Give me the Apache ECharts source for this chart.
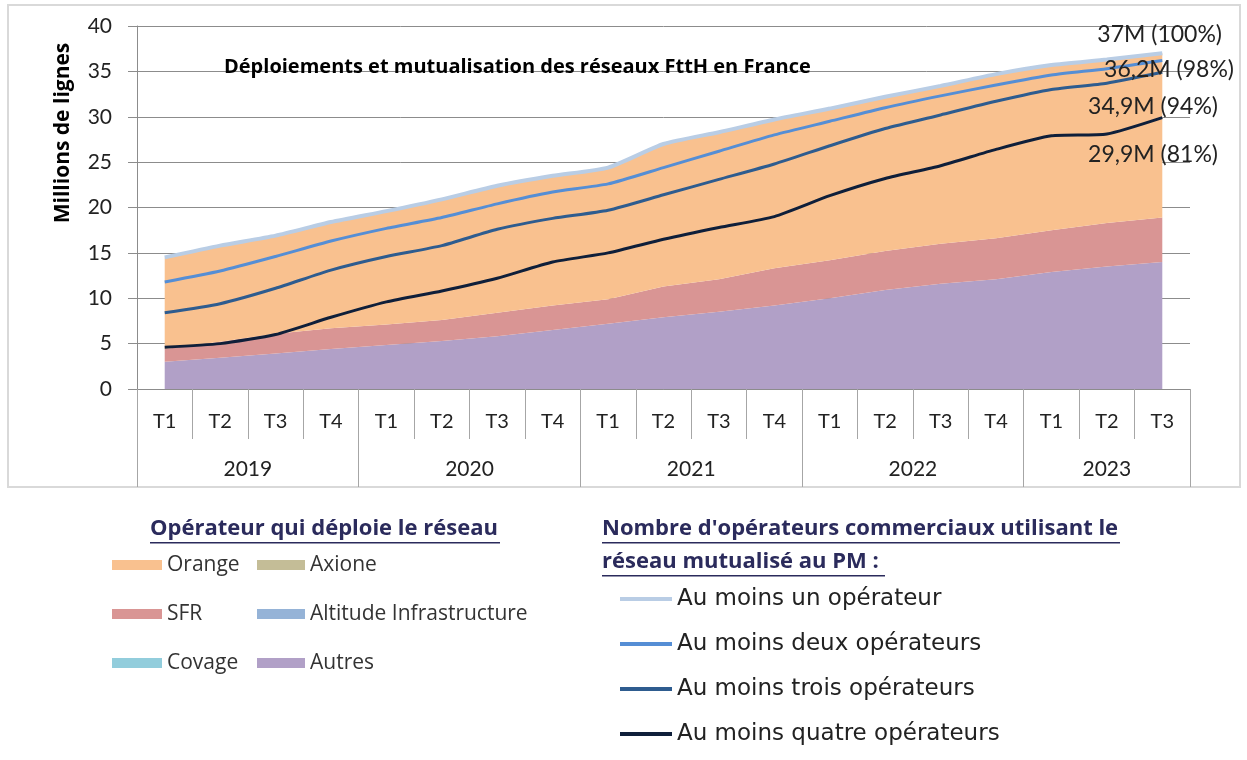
<!DOCTYPE html>
<html>
<head>
<meta charset="utf-8">
<script src="https://cdn.jsdelivr.net/npm/echarts@6/dist/echarts.min.js"></script>
<style>
html, body { margin: 0; padding: 0; background: #fff; }
#chart { width: 1247px; height: 760px; }
</style>
</head>
<body>
<div id="chart"></div>
<script>
// trimestres et années (axe à deux niveaux)
var quarters = ['T1','T2','T3','T4','T1','T2','T3','T4','T1','T2','T3','T4','T1','T2','T3','T4','T1','T2','T3'];
var years = ['2019', '2020', '2021', '2022', '2023'];
var quartersPerYear = [4, 4, 4, 4, 3];

// aires empilées : opérateur qui déploie le réseau (millions de lignes)
var autres = [3.0, 3.45, 3.9, 4.4, 4.85, 5.3, 5.8, 6.5, 7.2, 7.9, 8.5, 9.2, 10.0, 10.9, 11.6, 12.1, 12.9, 13.5, 14.0];
var sfr = [1.4, 1.75, 2.2, 2.3, 2.25, 2.3, 2.6, 2.7, 2.7, 3.4, 3.6, 4.1, 4.2, 4.3, 4.4, 4.5, 4.6, 4.8, 4.9];
var orange = [10.1, 10.6, 10.8, 11.7, 12.5, 13.3, 13.9, 14.2, 14.5, 15.7, 16.2, 16.4, 16.7, 17.0, 17.4, 18.1, 18.2, 18.0, 18.1];

// courbes : nombre d'opérateurs commerciaux au PM
var auMoinsUn = [14.5, 15.8, 16.9, 18.4, 19.6, 20.9, 22.4, 23.5, 24.4, 27.0, 28.3, 29.7, 30.9, 32.2, 33.4, 34.7, 35.7, 36.3, 37.0];
var auMoinsDeux = [11.8, 13.0, 14.6, 16.3, 17.7, 18.9, 20.4, 21.7, 22.6, 24.4, 26.2, 28.0, 29.5, 31.0, 32.3, 33.5, 34.6, 35.3, 36.2];
var auMoinsTrois = [8.4, 9.4, 11.1, 13.1, 14.6, 15.8, 17.6, 18.8, 19.7, 21.4, 23.1, 24.8, 26.8, 28.7, 30.2, 31.7, 33.0, 33.7, 34.9];
var auMoinsQuatre = [4.6, 5.0, 6.0, 7.9, 9.6, 10.8, 12.2, 14.0, 15.0, 16.5, 17.8, 19.0, 21.3, 23.2, 24.6, 26.4, 27.9, 28.1, 29.9];

var endLabels = ['37M (100%)', '36,2M (98%)', '34,9M (94%)', '29,9M (81%)'];

var FONT = 'Lato, "Liberation Sans", sans-serif';
var FONT_B = '"Open Sans", Lato, sans-serif';
var gridColor = '#8c8c8c';

// positions des séparateurs et libellés des années
var yearTicks = [0];
var yearCenters = [];
var acc = 0;
quartersPerYear.forEach(function (n) {
    yearCenters.push(acc + n / 2);
    acc += n;
    yearTicks.push(acc);
});

function area(name, data, color) {
    return {
        name: name,
        type: 'line',
        stack: 'deploiement',
        data: data,
        showSymbol: false,
        symbol: 'none',
        lineStyle: { width: 0 },
        itemStyle: { color: color },
        areaStyle: { color: color, opacity: 1 },
        z: 1
    };
}

function courbe(name, data, color, width) {
    return {
        name: name,
        type: 'line',
        data: data,
        showSymbol: false,
        symbol: 'none',
        smooth: 0.2,
        lineStyle: { color: color, width: width },
        itemStyle: { color: color },
        z: 3
    };
}

function note(text, x, y) {
    return {
        type: 'text', x: x, y: y, z: 100,
        style: { text: text, fontFamily: FONT, fontSize: 23, fill: '#222', align: 'right', verticalAlign: 'middle' }
    };
}

var legendText = { fontFamily: FONT_B, fontSize: 21, color: '#333', lineHeight: 26 };
var legendText2 = { fontFamily: '"DejaVu Sans", sans-serif', fontSize: 23, color: '#222', lineHeight: 26 };
var headStyle = { fontFamily: FONT_B, fontSize: 22, fontWeight: 'bold', fill: '#2b2b5c', verticalAlign: 'middle' };

var option = {
    backgroundColor: '#fff',
    animation: false,
    title: {
        text: 'Déploiements et mutualisation des réseaux FttH en France',
        left: 224,
        top: 57,
        padding: 0,
        textStyle: { fontFamily: FONT_B, fontSize: 20, fontWeight: 'bold', color: '#000' }
    },
    grid: { left: 137, right: 57, top: 26, bottom: 371 },
    legend: [
        {
            orient: 'vertical', left: 112, top: 552, padding: 0, selectedMode: false,
            icon: 'rect', itemWidth: 50, itemHeight: 10, itemGap: 23,
            data: ['Orange', 'SFR', 'Covage'], textStyle: legendText
        },
        {
            orient: 'vertical', left: 257, top: 552, padding: 0, selectedMode: false,
            icon: 'rect', itemWidth: 48, itemHeight: 10, itemGap: 23,
            data: ['Axione', 'Altitude Infrastructure', 'Autres'], textStyle: legendText
        },
        {
            orient: 'vertical', left: 620, top: 586, padding: 0, selectedMode: false,
            icon: 'rect', itemWidth: 52, itemHeight: 4, itemGap: 19,
            data: ['Au moins un opérateur', 'Au moins deux opérateurs', 'Au moins trois opérateurs', 'Au moins quatre opérateurs'],
            textStyle: legendText2
        }
    ],
    xAxis: [
        {
            type: 'category',
            data: quarters,
            boundaryGap: true,
            axisLine: { lineStyle: { color: gridColor } },
            axisTick: { show: true, interval: 0, length: 50, lineStyle: { color: '#a6a6a6' } },
            axisLabel: { interval: 0, margin: 23, fontFamily: FONT, fontSize: 20, color: '#222' }
        },
        {
            type: 'value',
            min: 0,
            max: quarters.length,
            position: 'bottom',
            axisLine: { show: false },
            splitLine: { show: false },
            axisTick: { show: true, length: 98, customValues: yearTicks, lineStyle: { color: '#a6a6a6' } },
            axisLabel: {
                margin: 70, fontFamily: FONT, fontSize: 21, color: '#222',
                customValues: yearCenters,
                formatter: function (v) {
                    var i = yearCenters.indexOf(v);
                    return i >= 0 ? years[i] : '';
                }
            }
        }
    ],
    yAxis: {
        type: 'value',
        min: 0,
        max: 40,
        interval: 5,
        axisLine: { show: true, lineStyle: { color: gridColor } },
        axisTick: { show: true, length: 9, lineStyle: { color: gridColor } },
        splitLine: { lineStyle: { color: gridColor } },
        axisLabel: { margin: 25, fontFamily: FONT, fontSize: 21, color: '#222' }
    },
    series: [
        area('Autres', autres, '#b1a0c7'),
        area('SFR', sfr, '#d99594'),
        area('Orange', orange, '#f9c18f'),
        area('Axione', [], '#c4bd97'),
        area('Altitude Infrastructure', [], '#95b3d7'),
        area('Covage', [], '#92cddc'),
        courbe('Au moins un opérateur', auMoinsUn, '#b9cde5', 4),
        courbe('Au moins deux opérateurs', auMoinsDeux, '#558ed5', 3),
        courbe('Au moins trois opérateurs', auMoinsTrois, '#2e5c8f', 3),
        courbe('Au moins quatre opérateurs', auMoinsQuatre, '#0f1f3a', 3)
    ],
    graphic: [
        { type: 'rect', shape: { x: 8, y: 5, width: 1232, height: 482 }, style: { fill: 'none', stroke: '#d9d9d9', lineWidth: 2 }, silent: true },
        {
            type: 'text', x: 63, y: 133, rotation: Math.PI / 2,
            style: { text: 'Millions de lignes', fontFamily: FONT_B, fontSize: 21, fontWeight: 'bold', fill: '#000', align: 'center', verticalAlign: 'middle' }
        },
        note(endLabels[0], 1222, 35),
        note(endLabels[1], 1234, 70),
        note(endLabels[2], 1218, 107),
        note(endLabels[3], 1218, 155),
        { type: 'text', x: 150, y: 529, style: Object.assign({ text: 'Opérateur qui déploie le réseau' }, headStyle) },
        { type: 'rect', shape: { x: 150, y: 542, width: 350, height: 1.5 }, style: { fill: '#2b2b5c' } },
        { type: 'text', x: 602, y: 529, style: Object.assign({ text: "Nombre d'opérateurs commerciaux utilisant le" }, headStyle) },
        { type: 'rect', shape: { x: 602, y: 542, width: 518, height: 1.5 }, style: { fill: '#2b2b5c' } },
        { type: 'text', x: 602, y: 562, style: Object.assign({ text: 'réseau mutualisé au PM :' }, headStyle) },
        { type: 'rect', shape: { x: 602, y: 575, width: 283, height: 1.5 }, style: { fill: '#2b2b5c' } }
    ]
};

echarts.init(document.getElementById('chart')).setOption(option);
</script>
</body>
</html>
